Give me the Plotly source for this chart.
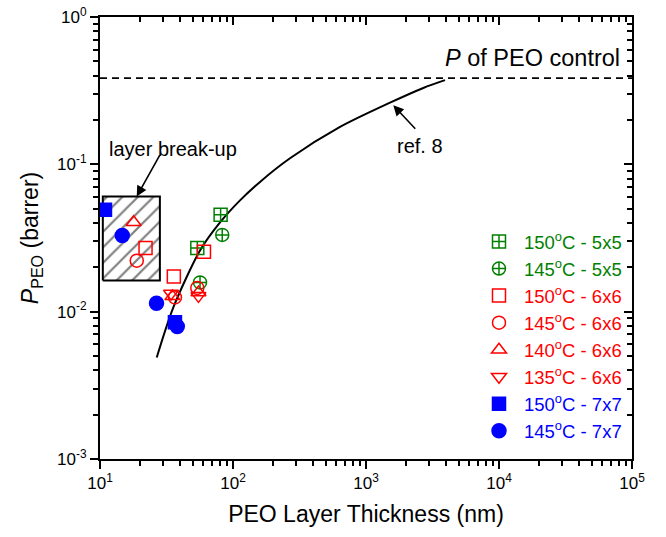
import numpy as np
import plotly.graph_objects as go

# ---------------- data ----------------
series_names = [
    "150<sup>o</sup>C - 5x5", "145<sup>o</sup>C - 5x5",
    "150<sup>o</sup>C - 6x6", "145<sup>o</sup>C - 6x6",
    "140<sup>o</sup>C - 6x6", "135<sup>o</sup>C - 6x6",
    "150<sup>o</sup>C - 7x7", "145<sup>o</sup>C - 7x7",
]
s150_5x5_x = [53.9, 80.7]
s150_5x5_y = [0.0270, 0.0455]
s145_5x5_x = [83.0, 56.5]
s145_5x5_y = [0.0332, 0.0158]
s150_6x6_x = [22.0, 35.9, 60.5]
s150_6x6_y = [0.0270, 0.0173, 0.0255]
s145_6x6_x = [18.9, 36.6, 53.9]
s145_6x6_y = [0.0222, 0.0125, 0.0145]
s140_6x6_x = [17.9, 35.0, 55.0]
s140_6x6_y = [0.0405, 0.0127, 0.0135]
s135_6x6_x = [34.2, 55.0]
s135_6x6_y = [0.0133, 0.0128]
s150_7x7_x = [10.9, 36.6]
s150_7x7_y = [0.0492, 0.00846]
s145_7x7_x = [14.7, 26.6, 38.1]
s145_7x7_y = [0.0329, 0.0114, 0.00794]

# ref. 8 model curve
ref8_x = [26.7, 35.6, 56.5, 79.9, 112.9, 159.6, 268.3, 637.6, 1515, 2697, 3926]
ref8_y = [0.00489, 0.01070, 0.0260, 0.0403, 0.0569, 0.0760, 0.1099, 0.1794, 0.2620, 0.3299, 0.3726]

# P of PEO control
p_control = 0.385
p_control_x = [10, 100000]

# layer break-up region
box_x = [10.5, 28.2]
box_y = [0.01625, 0.0606]

x_tickvals = [10, 100, 1000, 10000, 100000]
x_ticktext = ["10<sup>1</sup>", "10<sup>2</sup>", "10<sup>3</sup>", "10<sup>4</sup>", "10<sup>5</sup>"]
y_tickvals = [0.001, 0.01, 0.1, 1]
y_ticktext = ["10<sup>-3</sup>", "10<sup>-2</sup>", "10<sup>-1</sup>", "10<sup>0</sup>"]

# ---------------- styling ----------------
FONT = "Arial, 'Liberation Sans', sans-serif"
GREEN = "#008000"
RED = "#ff0000"
BLUE = "#0000ff"

fig = go.Figure()

# hatched box
fig.add_trace(go.Scatter(
    x=[box_x[0], box_x[1], box_x[1], box_x[0], box_x[0]],
    y=[box_y[0], box_y[0], box_y[1], box_y[1], box_y[0]],
    mode="lines", fill="toself", fillcolor="white",
    fillpattern=dict(shape="/", fgcolor="black", bgcolor="white", size=11, solidity=0.2),
    line=dict(color="black", width=2), showlegend=False, hoverinfo="skip"))

# dashed control line
fig.add_trace(go.Scatter(x=p_control_x, y=[p_control, p_control], mode="lines",
                         line=dict(color="black", width=1.6, dash="7px,5px"),
                         showlegend=False, hoverinfo="skip"))

# ref curve
fig.add_trace(go.Scatter(x=ref8_x, y=ref8_y, mode="lines",
                         line=dict(color="black", width=2, shape="spline", smoothing=0.8),
                         showlegend=False, hoverinfo="skip"))

series = [
    (s150_5x5_x, s150_5x5_y, "square-cross-open", GREEN, 13),
    (s145_5x5_x, s145_5x5_y, "circle-cross-open", GREEN, 13),
    (s150_6x6_x, s150_6x6_y, "square-open", RED, 13),
    (s145_6x6_x, s145_6x6_y, "circle-open", RED, 13),
    (s140_6x6_x, s140_6x6_y, "triangle-up-open", RED, 13),
    (s135_6x6_x, s135_6x6_y, "triangle-down-open", RED, 13),
    (s150_7x7_x, s150_7x7_y, "square", BLUE, 13),
    (s145_7x7_x, s145_7x7_y, "circle", BLUE, 14),
]
for (xs, ys, sym, col, sz), name in zip(series, series_names):
    fig.add_trace(go.Scatter(
        x=xs, y=ys, mode="markers",
        name=f'<span style="color:{col}">{name}</span>',
        marker=dict(symbol=sym, size=sz, color=col, line=dict(color=col, width=1.5)),
    ))

# dummy trace for mirrored inward-tick axes (top/right)
fig.add_trace(go.Scatter(x=[None], y=[None], xaxis="x2", yaxis="y2", showlegend=False, hoverinfo="skip"))

x_minor = [m * 10 ** e for e in range(1, 5) for m in range(2, 10)]
y_minor = [m * 10.0 ** e for e in range(-3, 0) for m in range(2, 10)]

axis_common = dict(type="log", showgrid=False, zeroline=False, showline=True, automargin=False,
                   linecolor="black", linewidth=2, tickcolor="black", tickwidth=1.5)

fig.update_layout(
    width=666, height=537,
    margin=dict(l=100, r=34, t=17, b=78),
    paper_bgcolor="white", plot_bgcolor="white",
    font=dict(family=FONT, color="black", size=17),
    xaxis=dict(**axis_common, range=[1, 5], ticks="outside", ticklen=8,
               tickvals=x_tickvals, ticktext=x_ticktext, tickfont=dict(size=17),
               minor=dict(tickvals=x_minor, ticks="outside", ticklen=5, tickcolor="black", tickwidth=1.5),
               title=dict(text="PEO Layer Thickness (nm)", font=dict(size=23), standoff=13)),
    yaxis=dict(**axis_common, range=[-3, 0], ticks="outside", ticklen=8,
               tickvals=y_tickvals, ticktext=y_ticktext, tickfont=dict(size=17),
               minor=dict(tickvals=y_minor, ticks="outside", ticklen=5, tickcolor="black", tickwidth=1.5),
               title=dict(text="<i>P</i><sub>PEO</sub> (barrer)", font=dict(size=23), standoff=12)),
    xaxis2=dict(**axis_common, range=[1, 5], overlaying="x", side="top", anchor="y2",
                ticks="inside", ticklen=8, tickvals=x_tickvals, showticklabels=False,
                minor=dict(tickvals=x_minor, ticks="inside", ticklen=5, tickcolor="black", tickwidth=1.5)),
    yaxis2=dict(**axis_common, range=[-3, 0], overlaying="y", side="right", anchor="x2",
                ticks="inside", ticklen=8, tickvals=y_tickvals, showticklabels=False,
                minor=dict(tickvals=y_minor, ticks="inside", ticklen=5, tickcolor="black", tickwidth=1.5)),
    legend=dict(x=0.703, y=0.534, xanchor="left", yanchor="top", bgcolor="rgba(0,0,0,0)",
                font=dict(size=18.5), itemwidth=40, tracegroupgap=0),
    showlegend=True,
)

annotations = [
    dict(x=1.549, y=-0.898, xref="x", yref="y", text="layer break-up", showarrow=False,
         font=dict(size=20)),
    dict(x=1.276, y=-1.218, xref="x", yref="y", ax=1.456, ay=-0.927, axref="x", ayref="y",
         text="", showarrow=True, arrowhead=2, arrowsize=1.3, arrowwidth=1.6, arrowcolor="black"),
    dict(x=3.406, y=-0.878, xref="x", yref="y", text="ref. 8", showarrow=False, font=dict(size=20)),
    dict(x=3.205, y=-0.599, xref="x", yref="y", ax=3.381, ay=-0.769, axref="x", ayref="y",
         text="", showarrow=True, arrowhead=2, arrowsize=1.3, arrowwidth=1.6, arrowcolor="black"),
    dict(x=4.925, y=-0.279, xref="x", yref="y", xanchor="right", text="<i>P</i> of PEO control",
         showarrow=False, font=dict(size=23.5)),
]
fig.update_layout(annotations=annotations)

fig.write_html("out.html")
